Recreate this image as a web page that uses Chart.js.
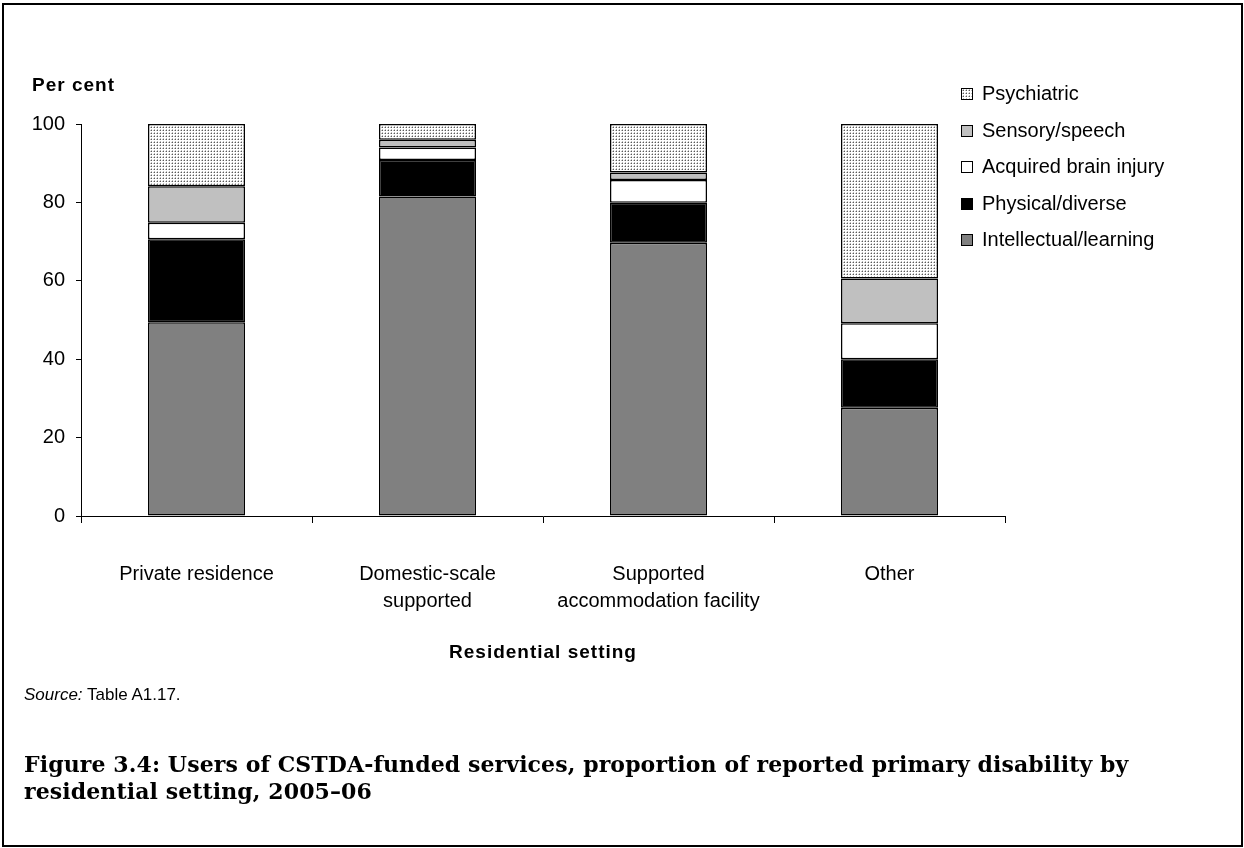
<!DOCTYPE html>
<html lang="en">
<head>
    <meta charset="UTF-8">
    <title>Figure 3.4</title>
    <script src="https://cdn.jsdelivr.net/npm/chart.js@4.4.0/dist/chart.umd.min.js"></script>
    <style>
        body {
            margin: 0;
            width: 1244px;
            height: 848px;
            background: #fff;
            overflow: hidden;
            position: relative;
            font-family: "Liberation Sans", Arial, sans-serif;
            color: #000;
        }
        .frame {
            position: absolute;
            left: 2px;
            top: 3px;
            width: 1241px;
            height: 844px;
            box-sizing: border-box;
            border: 2px solid #000;
        }
        #chart {
            position: absolute;
            left: 0;
            top: 0;
        }
        .txt {
            position: absolute;
            white-space: nowrap;
            line-height: 22px;
        }
        .unit {
            left: 32px;
            top: 74px;
            font-size: 19px;
            font-weight: bold;
            letter-spacing: 1px;
        }
        .xtitle {
            left: 543px;
            top: 641px;
            transform: translateX(-50%);
            font-size: 19px;
            font-weight: bold;
            letter-spacing: 1px;
        }
        .source {
            left: 24px;
            top: 684px;
            font-size: 17px;
        }
        .caption {
            position: absolute;
            left: 24px;
            top: 751px;
            font-family: "DejaVu Serif", serif;
            font-weight: bold;
            font-size: 22px;
            letter-spacing: 0.1px;
            line-height: 27px;
            white-space: nowrap;
        }
        .legend {
            position: absolute;
            left: 961px;
            top: 82px;
        }
        .legend .row {
            height: 36.5px;
            display: flex;
            align-items: flex-start;
            font-size: 20px;
            line-height: 22px;
        }
        .legend .sw {
            width: 10px;
            height: 10px;
            border: 1px solid #000;
            margin-top: 6px;
            margin-right: 9px;
        }
    </style>
</head>
<body>
    <div class="frame"></div>
    <canvas id="chart" width="1244" height="848"></canvas>
    <div class="txt unit">Per cent</div>
    <div class="legend" id="legend"></div>
    <div class="txt xtitle">Residential setting</div>
    <div class="txt source"><i>Source:</i> Table A1.17.</div>
    <div class="caption">Figure 3.4: Users of CSTDA-funded services, proportion of reported primary disability by<br>residential setting, 2005&ndash;06</div>

    <script>
        const settings = [['Private residence'], ['Domestic-scale', 'supported'], ['Supported', 'accommodation facility'], ['Other']];

        const intellectual = [49.4, 81.5, 69.7, 27.6];
        const physical = [21.2, 9.3, 10.2, 12.4];
        const acquiredBrain = [4.2, 3.2, 5.8, 9.2];
        const sensory = [9.3, 2.0, 1.9, 11.4];
        const psychiatric = [15.9, 4.0, 12.4, 39.4];

        const yTicks = [0, 20, 40, 60, 80, 100];

        // dotted fill used for the psychiatric series
        const tile = document.createElement('canvas');
        tile.width = 3;
        tile.height = 3;
        const tctx = tile.getContext('2d');
        tctx.fillStyle = '#fff';
        tctx.fillRect(0, 0, 3, 3);
        tctx.fillStyle = '#bdbdbd';
        tctx.fillRect(1, 0, 1, 1);
        tctx.fillRect(0, 1, 1, 1);
        tctx.fillStyle = '#5a5a5a';
        tctx.fillRect(1, 1, 1, 1);

        const ctx = document.getElementById('chart').getContext('2d');
        const dotted = ctx.createPattern(tile, 'repeat');

        const series = [
            { label: 'Intellectual/learning', data: intellectual, fill: '#808080' },
            { label: 'Physical/diverse', data: physical, fill: '#000000' },
            { label: 'Acquired brain injury', data: acquiredBrain, fill: '#ffffff' },
            { label: 'Sensory/speech', data: sensory, fill: '#c0c0c0' },
            { label: 'Psychiatric', data: psychiatric, fill: dotted }
        ];

        // legend, top item is the top of the stack
        const legend = document.getElementById('legend');
        series.slice().reverse().forEach(s => {
            const row = document.createElement('div');
            row.className = 'row';
            const sw = document.createElement('div');
            sw.className = 'sw';
            if (typeof s.fill === 'string') {
                sw.style.background = s.fill;
            } else {
                sw.style.backgroundImage = `url(${tile.toDataURL()})`;
            }
            row.appendChild(sw);
            row.appendChild(document.createTextNode(s.label));
            legend.appendChild(row);
        });

        new Chart(ctx, {
            type: 'bar',
            data: {
                labels: settings,
                datasets: series.map(s => ({
                    label: s.label,
                    data: s.data,
                    backgroundColor: s.fill,
                    borderColor: '#000',
                    borderWidth: 1.5,
                    borderSkipped: false,
                    barPercentage: 0.42,
                    categoryPercentage: 1
                }))
            },
            options: {
                responsive: false,
                animation: false,
                layout: {
                    padding: { left: 0, right: 239, top: 124, bottom: 212 }
                },
                scales: {
                    x: {
                        stacked: true,
                        grid: {
                            drawOnChartArea: false,
                            tickLength: 7,
                            color: '#000',
                            offset: true
                        },
                        border: { color: '#000', width: 1 },
                        ticks: {
                            color: '#000',
                            padding: 38,
                            maxRotation: 0,
                            font: { family: 'Liberation Sans', size: 20, lineHeight: 1.35 }
                        },
                        afterFit: scale => { scale.height = 120; }
                    },
                    y: {
                        stacked: true,
                        min: 0,
                        max: 100,
                        afterBuildTicks: scale => {
                            scale.ticks = yTicks.map(v => ({ value: v }));
                        },
                        grid: {
                            drawOnChartArea: false,
                            tickLength: 5,
                            color: '#000'
                        },
                        border: { color: '#000', width: 1 },
                        ticks: {
                            color: '#000',
                            padding: 11,
                            font: { family: 'Liberation Sans', size: 20 }
                        },
                        afterFit: scale => { scale.width = 81; }
                    }
                },
                plugins: {
                    legend: { display: false },
                    tooltip: { enabled: false }
                }
            }
        });
    </script>
</body>
</html>
